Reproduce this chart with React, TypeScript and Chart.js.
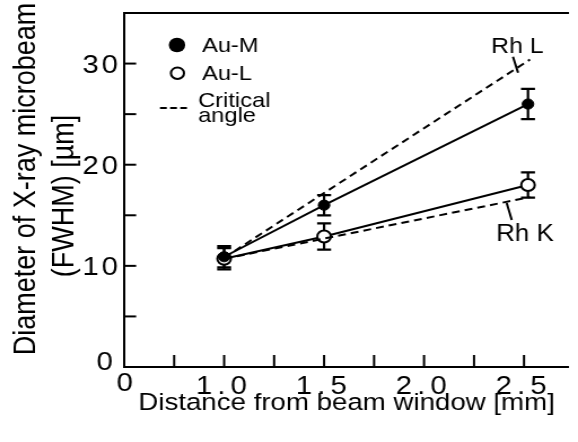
import { useEffect, useRef } from "react";
import { Chart, registerables } from "chart.js";

Chart.register(...registerables);

// Beam diameter (FWHM, µm) against distance from the beam window (mm)
const distance = [1.0, 1.5, 2.52];
const auM = [10.9, 16.0, 26.0];
const auMErr = [1.05, 1.0, 1.5];
const auL = [10.7, 12.9, 18.0];
const auLErr = [1.05, 1.3, 1.25];

// Critical-angle estimates for the Rh L and Rh K lines
const criticalDistance = [1.0, 2.53];
const rhL = [10.8, 30.4];
const rhK = [10.7, 16.8];

// Axis ticks (the x axis is broken: its first tick carries the label "0")
const xMajorTicks = [0.5, 1.0, 1.5, 2.0, 2.5];
const xTickLabels = ["0", "1.0", "1.5", "2.0", "2.5"];
const xMinorTicks = [0.75, 1.25, 1.75, 2.25];
const yMajorTicks = [0, 10, 20, 30];
const yTickLabels = ["0", "10", "20", "30"];
const yMinorTicks = [5, 15, 25];

const INK = "#000";
const FONT_FAMILY = '"Liberation Sans", Arial, Helvetica, sans-serif';
const CANVAS_W = 512;
const CANVAS_H = 442;

function drawLabel(
  ctx: CanvasRenderingContext2D,
  str: string,
  x: number,
  y: number,
  size: number,
  align: CanvasTextAlign = "left",
  spacing = 0,
  rotate = false
) {
  ctx.save();
  ctx.font = `${size}px ${FONT_FAMILY}`;
  (ctx as any).letterSpacing = `${spacing}px`;
  ctx.fillStyle = INK;
  ctx.textBaseline = "alphabetic";
  ctx.textAlign = align;
  let dx = 0;
  if (align === "right") dx = spacing;
  else if (align === "center") dx = spacing / 2;
  ctx.translate(x, y);
  if (rotate) ctx.rotate(-Math.PI / 2);
  ctx.fillText(str, dx, 0);
  ctx.restore();
}

function line(ctx: CanvasRenderingContext2D, x1: number, y1: number, x2: number, y2: number, w = 2, dash: number[] = []) {
  ctx.save();
  ctx.strokeStyle = INK;
  ctx.lineWidth = w;
  ctx.setLineDash(dash);
  ctx.beginPath();
  ctx.moveTo(x1, y1);
  ctx.lineTo(x2, y2);
  ctx.stroke();
  ctx.restore();
}

function drawErrorBars(chart: any, xs: number[], ys: number[], errs: number[]) {
  const { ctx } = chart;
  const sx = chart.scales.x;
  const sy = chart.scales.y;
  const cap = 6.2;
  ctx.save();
  ctx.strokeStyle = INK;
  ctx.lineWidth = 2.2;
  xs.forEach((v, i) => {
    const px = sx.getPixelForValue(v);
    const top = sy.getPixelForValue(ys[i] + errs[i]);
    const bot = sy.getPixelForValue(ys[i] - errs[i]);
    ctx.beginPath();
    ctx.moveTo(px, top);
    ctx.lineTo(px, bot);
    ctx.moveTo(px - cap, top);
    ctx.lineTo(px + cap, top);
    ctx.moveTo(px - cap, bot);
    ctx.lineTo(px + cap, bot);
    ctx.stroke();
  });
  ctx.restore();
}

const decorations = {
  id: "decorations",
  beforeDatasetsDraw(chart: any) {
    drawErrorBars(chart, distance, auL, auLErr);
    drawErrorBars(chart, distance, auM, auMErr);
  },
  afterDraw(chart: any) {
    const { ctx, chartArea } = chart;
    const { left, right, top, bottom } = chartArea;
    const sx = chart.scales.x;
    const sy = chart.scales.y;

    // frame: left axis, bottom axis, top rule
    line(ctx, left, top, left, bottom + 1, 2);
    line(ctx, left - 1, bottom, right, bottom, 2);
    line(ctx, left - 1, top, right, top, 2);

    // inward tick marks
    [...xMajorTicks, ...xMinorTicks].forEach((v) => {
      const px = sx.getPixelForValue(v);
      line(ctx, px, bottom, px, bottom - 12, 2);
    });
    [...yMajorTicks, ...yMinorTicks].forEach((v) => {
      if (v === 0) return;
      const py = sy.getPixelForValue(v);
      line(ctx, left, py, left + 10.6, py, 2);
    });

    // tick labels
    xMajorTicks.forEach((v, i) => {
      const px = sx.getPixelForValue(v);
      if (i === 0) drawLabel(ctx, xTickLabels[i], px + 0.5, 391, 26, "center", 0);
      else drawLabel(ctx, xTickLabels[i], px - 2.5, 394, 26, "center", 4.5);
    });
    yMajorTicks.forEach((v, i) => {
      const py = sy.getPixelForValue(v);
      if (v === 0) drawLabel(ctx, yTickLabels[i], left - 10, 370, 26, "right", 0);
      else drawLabel(ctx, yTickLabels[i], left - 5.5, py + 9.5, 26, "right", 2.5);
    });

    // axis titles
    drawLabel(ctx, "Distance from beam window [mm]", 307, 410, 24.5, "center");
    drawLabel(ctx, "Diameter of X-ray microbeam", 31, 179, 27, "center", 0, true);
    drawLabel(ctx, "(FWHM) [µm]", 64.7, 196, 27, "center", 0, true);

    // legend
    ctx.save();
    ctx.fillStyle = INK;
    ctx.beginPath();
    ctx.arc(156.8, 45, 7.3, 0, Math.PI * 2);
    ctx.fill();
    ctx.fillStyle = "#fff";
    ctx.strokeStyle = INK;
    ctx.lineWidth = 2;
    ctx.beginPath();
    ctx.arc(157.2, 73.2, 5.8, 0, Math.PI * 2);
    ctx.fill();
    ctx.stroke();
    ctx.restore();
    line(ctx, 141.7, 108, 165.6, 108, 2, [6, 3]);
    drawLabel(ctx, "Au-M", 178.9, 52, 21);
    drawLabel(ctx, "Au-L", 178.9, 80, 21);
    drawLabel(ctx, "Critical", 175.4, 107, 21);
    drawLabel(ctx, "angle", 175.4, 122, 21);

    // labels on the critical-angle lines
    drawLabel(ctx, "Rh L", 435, 53, 22);
    line(ctx, 454.4, 56.7, 458.9, 72.7, 2);
    drawLabel(ctx, "Rh K", 439.5, 241, 23);
    line(ctx, 448.8, 203, 453.3, 220, 2);
  },
};

const points = (xs: number[], ys: number[]) => xs.map((x, i) => ({ x, y: ys[i] }));

export default function App() {
  const canvasRef = useRef<HTMLCanvasElement>(null);

  useEffect(() => {
    const canvas = canvasRef.current;
    if (!canvas) return;
    const chart = new Chart(canvas, {
      type: "line",
      data: {
        datasets: [
          {
            label: "Rh L",
            data: points(criticalDistance, rhL),
            borderColor: INK,
            borderWidth: 2,
            borderDash: [7, 4.5],
            pointRadius: 0,
            tension: 0,
          },
          {
            label: "Rh K",
            data: points(criticalDistance, rhK),
            borderColor: INK,
            borderWidth: 2,
            borderDash: [7, 4.5],
            pointRadius: 0,
            tension: 0,
          },
          {
            label: "Au-M",
            data: points(distance, auM),
            borderColor: INK,
            borderWidth: 2,
            pointRadius: 5.1,
            pointBorderWidth: 1,
            pointBorderColor: INK,
            pointBackgroundColor: INK,
            tension: 0,
          },
          {
            label: "Au-L",
            data: points(distance, auL),
            borderColor: INK,
            borderWidth: 2,
            pointRadius: 6,
            pointBorderWidth: 2,
            pointBorderColor: INK,
            pointBackgroundColor: "#fff",
            tension: 0,
          },
        ],
      },
      options: {
        responsive: false,
        devicePixelRatio: 1,
        animation: false,
        events: [],
        layout: { padding: { left: 110, top: 13, right: 0, bottom: 75 } },
        plugins: {
          legend: { display: false },
          tooltip: { enabled: false },
          title: { display: false },
        },
        scales: {
          x: {
            type: "linear",
            min: 0.5,
            max: 2.725,
            ticks: { display: false },
            grid: { display: false, drawTicks: false, tickLength: 0 },
            border: { display: false },
            afterFit: (s: any) => {
              s.height = 0;
            },
          },
          y: {
            type: "linear",
            min: 0,
            max: 35,
            ticks: { display: false },
            grid: { display: false, drawTicks: false, tickLength: 0 },
            border: { display: false },
            afterFit: (s: any) => {
              s.width = 0;
            },
          },
        },
      },
      plugins: [decorations],
    });
    return () => chart.destroy();
  }, []);

  return (
    <div style={{ position: "fixed", left: 0, top: 0, width: 578, height: 442, background: "#fff" }}>
      <canvas
        ref={canvasRef}
        width={CANVAS_W}
        height={CANVAS_H}
        style={{ width: "578px", height: "442px", display: "block" }}
      />
    </div>
  );
}
